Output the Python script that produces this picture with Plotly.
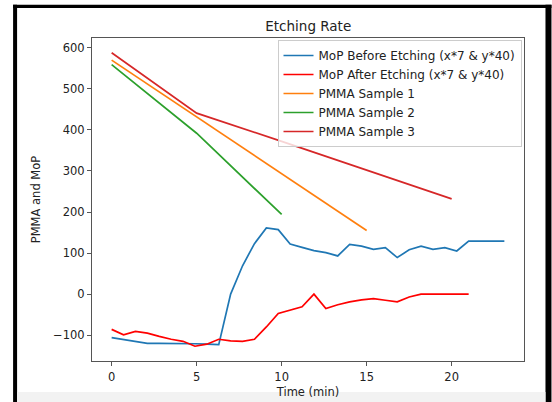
import plotly.graph_objects as go

# ---- data ----
mop_before_x = [0, 0.7, 1.4, 2.1, 2.8, 3.5, 4.2, 4.9, 5.6, 6.3, 7.0, 7.7, 8.4, 9.1, 9.8,
                10.5, 11.2, 11.9, 12.6, 13.3, 14.0, 14.7, 15.4, 16.1, 16.8, 17.5, 18.2,
                18.9, 19.6, 20.3, 21.0, 21.7, 22.4, 23.1]
mop_before_y = [-106, -111, -116, -120, -120, -120, -120, -121, -122, -123, 0, 69, 123, 161, 157,
                122, 114, 106, 101, 93, 121, 117, 109, 113, 89, 108, 117,
                109, 113, 105, 129, 129, 129, 129]

mop_after_x = [0, 0.7, 1.4, 2.1, 2.8, 3.5, 4.2, 4.9, 5.6, 6.3, 7.0, 7.7, 8.4, 9.1, 9.8,
               10.5, 11.2, 11.9, 12.6, 13.3, 14.0, 14.7, 15.4, 16.1, 16.8, 17.5, 18.2,
               18.9, 19.6, 20.3, 21.0]
mop_after_y = [-86, -99, -91, -95, -103, -110, -115, -127, -122, -110, -114, -115, -110, -80, -47,
               -39, -31, 0, -35, -26, -19, -14, -11, -15, -19, -7, 0,
               0, 0, 0, 0]

pmma1_x = [0, 5, 10, 15]
pmma1_y = [570, 432, 293, 155]
pmma2_x = [0, 5, 10]
pmma2_y = [559, 392, 194]
pmma3_x = [0, 5, 10, 15, 20]
pmma3_y = [588, 441, 372, 302, 232]

x_ticks = [0, 5, 10, 15, 20]
y_ticks = [-100, 0, 100, 200, 300, 400, 500, 600]

series = [
    ("MoP Before Etching (x*7 & y*40)", mop_before_x, mop_before_y, "#1f77b4"),
    ("MoP After Etching (x*7 & y*40)", mop_after_x, mop_after_y, "#ff0000"),
    ("PMMA Sample 1", pmma1_x, pmma1_y, "#ff7f0e"),
    ("PMMA Sample 2", pmma2_x, pmma2_y, "#2ca02c"),
    ("PMMA Sample 3", pmma3_x, pmma3_y, "#d62728"),
]

FONT = "DejaVu Sans"
W, H = 552, 402
L, R, T, B = 92, 524.5, 38, 361  # plot area in pixels

fig = go.Figure()
for name, xs, ys, col in series:
    fig.add_trace(go.Scatter(x=xs, y=ys, mode="lines", name=name,
                             line=dict(color=col, width=1.7)))

def px(X):
    return (X - L) / (R - L)

def py(Y):
    return (B - Y) / (B - T)

shapes = []
# screenshot frame (black edges and grey strip at bottom)
for (x0, y0, x1, y1, c) in [
    (13, 4.7, 552, 8, "black"),
    (13, 4.7, 17, 402, "black"),
    (546, 4.7, 552, 402, "black"),
    (17, 392, 546, 402, "#f2f2f2"),
]:
    shapes.append(dict(type="rect", xref="paper", yref="paper",
                       x0=px(x0), x1=px(x1), y0=py(y1), y1=py(y0),
                       fillcolor=c, line=dict(width=0), layer="above"))

axis_common = dict(showline=True, linecolor="#555555", linewidth=1, mirror=True,
                   ticks="outside", ticklen=4, tickcolor="#555555", tickwidth=1,
                   showgrid=False, zeroline=False, automargin=False,
                   tickfont=dict(family=FONT, size=11.5, color="#222222"))

fig.update_layout(
    width=W, height=H,
    margin=dict(l=L, r=W - R, t=T, b=H - B, pad=0),
    paper_bgcolor="white", plot_bgcolor="white",
    font=dict(family=FONT, size=11.5, color="#222222"),
    title=dict(text="Etching Rate", x=(L + R) / 2 / W, xanchor="center",
               y=1 - 26 / H, yanchor="middle",
               font=dict(family=FONT, size=13.5, color="#222222")),
    xaxis=dict(range=[-1.155, 24.255], tickvals=x_ticks, ticklabelstandoff=1,
               title=dict(text="Time (min)", standoff=5,
                          font=dict(family=FONT, size=11.5, color="#222222")),
               **axis_common),
    yaxis=dict(range=[-163, 624], tickvals=y_ticks,
               title=dict(text="PMMA and MoP", standoff=10,
                          font=dict(family=FONT, size=11.5, color="#222222")),
               **axis_common),
    legend=dict(x=px(522), xanchor="right", y=py(40), yanchor="top",
                bgcolor="rgba(255,255,255,0.8)", bordercolor="#cccccc", borderwidth=1,
                font=dict(family=FONT, size=12, color="#222222")),
    shapes=shapes,
)

fig.write_html("out.html", config={"displayModeBar": False},
               post_script="document.body.style.margin='0px';")
